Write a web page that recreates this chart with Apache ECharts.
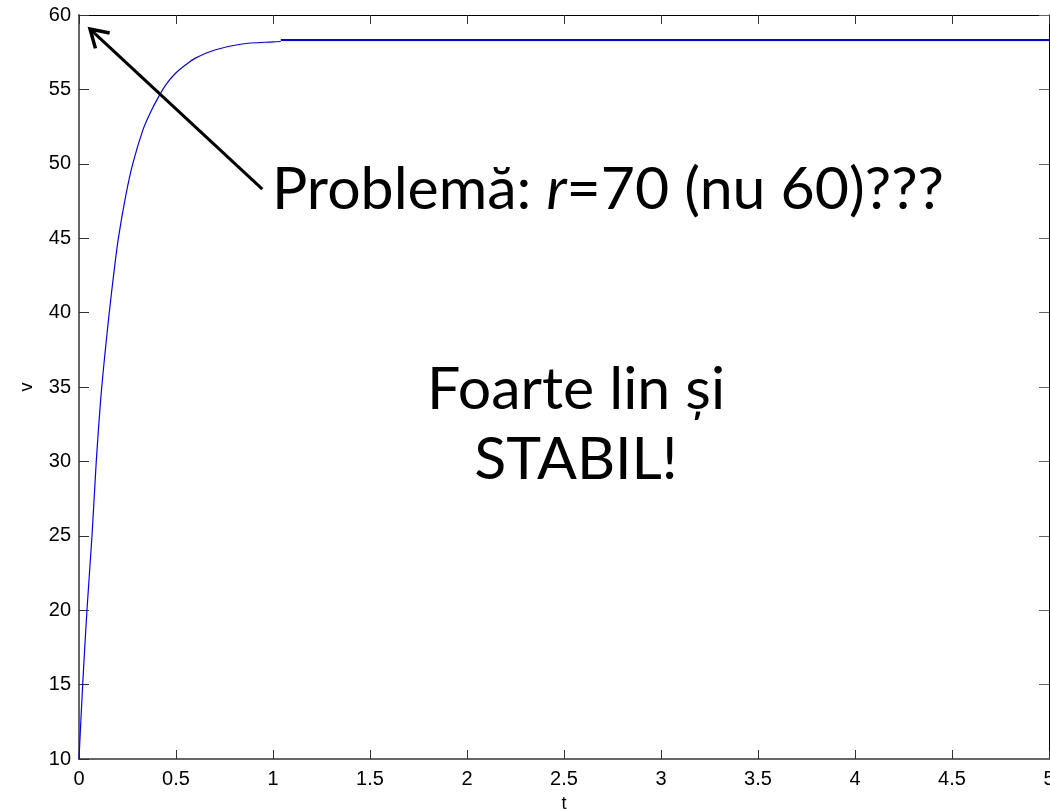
<!DOCTYPE html>
<html>
<head>
<meta charset="utf-8">
<script src="https://cdn.jsdelivr.net/npm/echarts@6/dist/echarts.min.js"></script>
<style>
html,body{margin:0;padding:0;background:#fff;}
#chart{width:1050px;height:810px;}
</style>
</head>
<body>
<div id="chart"></div>
<script>
// Data
var tRise = [0, 0.019, 0.041, 0.067, 0.089, 0.112, 0.135, 0.156, 0.18, 0.203, 0.24, 0.277, 0.33, 0.37, 0.41, 0.45, 0.495, 0.55, 0.6, 0.7, 0.84, 1.0, 1.04];
var vRise = [10, 15, 20, 25, 30, 34.2, 37.4, 40, 42.7, 45, 47.8, 50, 52.3, 53.5, 54.5, 55.35, 56.05, 56.65, 57.1, 57.65, 58.05, 58.2, 58.22];
var tFlat = [1.04, 5];
var vFlat = [58.32, 58.32];

var xTicks = {min: 0, max: 5, interval: 0.5};
var yTicks = {min: 10, max: 60, interval: 5};
var xName = 't';
var yName = 'v';

// Annotation texts and arrow (in data coordinates)
var noteLine1 = 'Problemă: {i|r}=70 (nu 60)???';
var noteLine2a = 'Foarte lin și';
var noteLine2b = 'STABIL!';
var arrowFrom = [0.945, 48.3];
var arrowTo = [0.057, 59.05];

function pairs(xs, ys) { return xs.map(function (x, i) { return [x, ys[i]]; }); }

var chart = echarts.init(document.getElementById('chart'), null, {renderer: 'canvas'});
var labelFont = {fontFamily: 'Liberation Sans', fontSize: 20, color: '#000'};

var option = {
  animation: false,
  backgroundColor: '#fff',
  grid: {left: 79, right: 1, top: 15, bottom: 51, containLabel: false, outerBoundsMode: 'none'},
  xAxis: [{
    type: 'value', min: xTicks.min, max: xTicks.max, interval: xTicks.interval,
    name: xName, nameLocation: 'middle', nameGap: 36,
    nameTextStyle: {fontFamily: 'Liberation Sans', fontSize: 18, color: '#000'},
    axisLine: {onZero: false, lineStyle: {color: '#666', width: 2}},
    axisTick: {inside: true, length: 9, lineStyle: {color: '#333', width: 1}},
    axisLabel: Object.assign({margin: 10, showMaxLabel: true, hideOverlap: false}, labelFont),
    splitLine: {show: false}
  }, {
    type: 'value', position: 'top', min: xTicks.min, max: xTicks.max, interval: xTicks.interval,
    axisLine: {onZero: false, lineStyle: {color: '#000', width: 1}},
    axisTick: {inside: true, length: 9, lineStyle: {color: '#333', width: 1}},
    axisLabel: {show: false}, splitLine: {show: false}
  }],
  yAxis: [{
    type: 'value', min: yTicks.min, max: yTicks.max, interval: yTicks.interval,
    name: yName, nameLocation: 'middle', nameGap: 43, nameRotate: 90,
    nameTextStyle: {fontFamily: 'Liberation Sans', fontSize: 18, color: '#000'},
    axisLine: {onZero: false, lineStyle: {color: '#666', width: 2}},
    axisTick: {inside: true, length: 10, lineStyle: {color: '#333', width: 1}},
    axisLabel: Object.assign({margin: 8}, labelFont),
    splitLine: {show: false}
  }, {
    type: 'value', position: 'right', min: yTicks.min, max: yTicks.max, interval: yTicks.interval,
    axisLine: {onZero: false, lineStyle: {color: '#000', width: 1}},
    axisTick: {inside: true, length: 10, lineStyle: {color: '#666', width: 1}},
    axisLabel: {show: false}, splitLine: {show: false}
  }],
  series: [{
    type: 'line', data: pairs(tRise, vRise), showSymbol: false, symbol: 'none',
    smooth: 0.3,
    lineStyle: {color: '#0000ff', width: 1.2}
  }, {
    type: 'line', data: pairs(tFlat, vFlat), showSymbol: false, symbol: 'none',
    lineStyle: {color: '#0000ff', width: 2}
  }]
};
chart.setOption(option);

function drawNotes() {
  var p0 = chart.convertToPixel({gridIndex: 0}, arrowFrom);
  var p1 = chart.convertToPixel({gridIndex: 0}, arrowTo);
  var dx = p1[0] - p0[0], dy = p1[1] - p0[1];
  var len = Math.sqrt(dx * dx + dy * dy);
  var ux = dx / len, uy = dy / len;
  var head = 20, spread = 0.55;
  function rot(a) {
    var c = Math.cos(a), s = Math.sin(a);
    return [-(ux * c - uy * s), -(ux * s + uy * c)];
  }
  var w1 = rot(spread), w2 = rot(-spread);
  chart.setOption({
    graphic: [
      {type: 'line', shape: {x1: p0[0], y1: p0[1], x2: p1[0], y2: p1[1]},
       style: {stroke: '#000', lineWidth: 3}, z: 10},
      {type: 'polyline', shape: {points: [
        [p1[0] + w1[0] * head, p1[1] + w1[1] * head], p1,
        [p1[0] + w2[0] * head, p1[1] + w2[1] * head]]},
       style: {stroke: '#000', lineWidth: 3.5, fill: null, lineJoin: 'miter'}, z: 10},
      {type: 'text', x: 272, y: 190, z: 10,
       style: {text: noteLine1, fontFamily: 'Lato', fontSize: 59, fill: '#000', verticalAlign: 'middle',
         rich: {i: {fontFamily: 'Lato', fontStyle: 'italic', fontSize: 59, fill: '#000'}}}},
      {type: 'text', x: 576, y: 390, z: 10,
       style: {text: noteLine2a, fontFamily: 'Lato', fontSize: 59, fill: '#000', align: 'center', verticalAlign: 'middle'}},
      {type: 'text', x: 576, y: 460, z: 10,
       style: {text: noteLine2b, fontFamily: 'Lato', fontSize: 59, fill: '#000', align: 'center', verticalAlign: 'middle'}}
    ]
  });
}
drawNotes();
</script>
</body>
</html>
